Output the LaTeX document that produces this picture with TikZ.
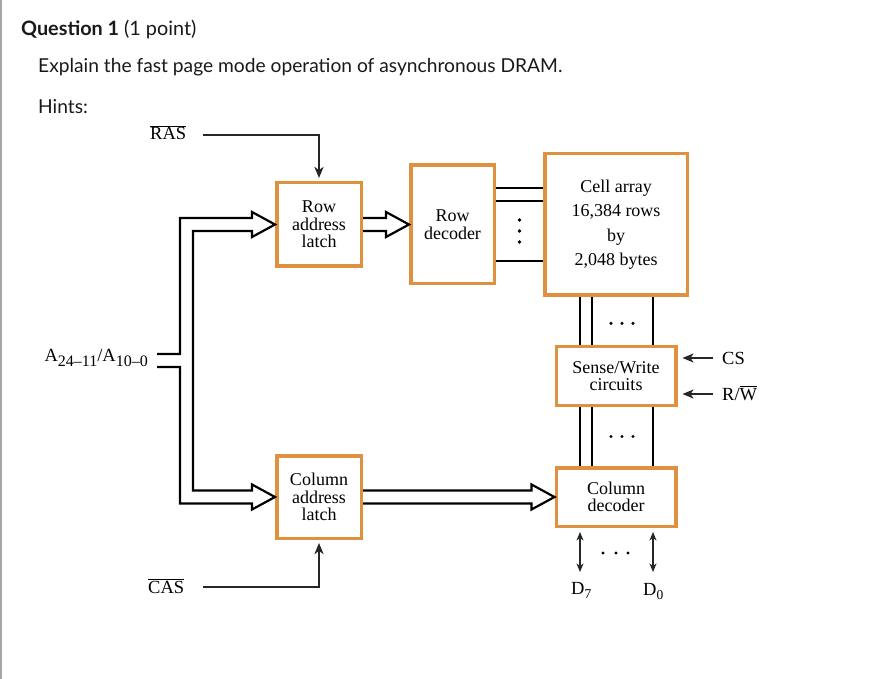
\documentclass[tikz,border=0pt]{standalone}
\usepackage{fontspec}
\setmainfont{Liberation Serif}
\newfontfamily\latofont{Lato}
\usetikzlibrary{calc,arrows.meta}
\definecolor{boxorange}{RGB}{222,145,62}
\begin{document}
\begin{tikzpicture}[x=1pt,y=-1pt,
  box/.style={draw=boxorange, line width=3.5pt, fill=white, align=center, inner sep=0pt, font=\fontsize{18}{17.5}\selectfont},
  wire/.style={line width=2.2pt, draw=black, line join=miter},
  sig/.style={line width=2.2pt, draw=black!85, -{Stealth[length=11pt,width=9pt,inset=3pt]}},
  dsig/.style={line width=2.2pt, draw=black!85, {Stealth[length=8.5pt,width=7pt,inset=2.5pt]}-{Stealth[length=8.5pt,width=7pt,inset=2.5pt]}},
  lbl/.style={inner sep=0pt, font=\fontsize{18.5}{18.5}\selectfont},
  qtext/.style={anchor=base west, inner sep=0pt, text=black!90}]
\useasboundingbox (0,0) rectangle (879,679);
\fill[white] (0,0) rectangle (879,679);
\fill[gray!70] (0,0) rectangle (2,679);

% question text
\node[qtext, font=\latofont\fontsize{19.8}{19.8}\selectfont] (q) at (21,36) {\textbf{Question 1} (1 point)};
\node[qtext, font=\latofont\fontsize{19.2}{19.2}\selectfont] (ex) at (38,73) {Explain the fast page mode operation of asynchronous DRAM.};
\node[qtext, font=\latofont\fontsize{19.2}{19.2}\selectfont] (hints) at (38,114) {Hints:};

% boxes
\node[box, minimum width=84.5pt, minimum height=83.5pt] (rl) at (319,224.5) {Row\\address\\latch};
\node[box, minimum width=83.5pt, minimum height=118.5pt] (rd) at (452.5,224.5) {Row\\decoder};
\node[box, minimum width=142.5pt, minimum height=141.5pt, font=\fontsize{18}{24.5}\selectfont] (ca) at (616,224.5) {Cell array\\16,384 rows\\by\\2,048 bytes};
\node[box, minimum width=119.5pt, minimum height=58.5pt] (sw) at (616,376) {Sense/Write\\circuits};
\node[box, minimum width=119.5pt, minimum height=58.5pt] (cd) at (616,497) {Column\\decoder};
\node[box, minimum width=84.5pt, minimum height=82.5pt] (cl) at (319,497) {Column\\address\\latch};

% labels
\node[lbl, anchor=base west] (ras) at (150,139.5) {$\overline{\mbox{RAS}}$};
\node[lbl, anchor=base west] (cas) at (148,593) {$\overline{\mbox{CAS}}$};
\node[lbl, anchor=base west] (cs) at (722,364) {CS};
\node[lbl, anchor=base west] (rw) at (722,400) {R/$\overline{\mbox{W}}$};
\node[lbl, anchor=base east, font=\fontsize{18.5}{18.5}\selectfont] (addr) at (148,362)
  {A\raisebox{-5pt}{\fontsize{16}{16}\selectfont 24–11}/A\raisebox{-5pt}{\fontsize{16}{16}\selectfont 10–0}};
\node[lbl, anchor=base west] (d7) at (571,594) {D\raisebox{-4pt}{\fontsize{13.5}{13.5}\selectfont 7}};
\node[lbl, anchor=base west] (d0) at (643,595) {D\raisebox{-4pt}{\fontsize{13.5}{13.5}\selectfont 0}};

% free ends
\coordinate (stubU) at (157,354);
\coordinate (stubD) at (157,367);
\coordinate (rasA) at (203,135);
\coordinate (casA) at (203,587);
\coordinate (csA) at (713,358);
\coordinate (rwA) at (713,394);
\coordinate (d7A) at (580,572);
\coordinate (d0A) at (653,572);

% address bus (one outline)
\draw[wire] (stubU) -| ($(rl.west)+(-95,-6.5)$) -- ($(rl.west)+(-23,-6.5)$) -- ($(rl.west)+(-23,-12.5)$)
  -- (rl.west) -- ($(rl.west)+(-23,12.5)$) -- ($(rl.west)+(-23,6.5)$) -- ($(rl.west)+(-82,6.5)$)
  -- ($(cl.west)+(-82,-6.5)$) -- ($(cl.west)+(-23,-6.5)$) -- ($(cl.west)+(-23,-12.5)$)
  -- (cl.west) -- ($(cl.west)+(-23,12.5)$) -- ($(cl.west)+(-23,6.5)$) -- ($(cl.west)+(-95,6.5)$) |- (stubD);

% latch -> decoder hollow arrows
\draw[wire] ($(rl.east)+(0,-6.5)$) -- ($(rd.west)+(-23,-6.5)$) -- ($(rd.west)+(-23,-12.5)$) -- (rd.west)
  -- ($(rd.west)+(-23,12.5)$) -- ($(rd.west)+(-23,6.5)$) -- ($(rl.east)+(0,6.5)$);
\draw[wire] ($(cl.east)+(0,-6.5)$) -- ($(cd.west)+(-23,-6.5)$) -- ($(cd.west)+(-23,-12.5)$) -- (cd.west)
  -- ($(cd.west)+(-23,12.5)$) -- ($(cd.west)+(-23,6.5)$) -- ($(cl.east)+(0,6.5)$);

% RAS / CAS
\draw[sig, shorten >=3pt] (rasA) -| (rl.north);
\draw[sig, shorten >=3pt] (casA) -| (cl.south);

% CS, R/W
\draw[sig, shorten >=5pt] (csA) -- (csA -| sw.east);
\draw[sig, shorten >=5pt] (rwA) -- (rwA -| sw.east);

% row lines
\foreach \dy in {-36.5,-23.5,36.5}
  \draw[wire] ($(rd.east)+(0,\dy)$) -- ($(ca.west)+(0,\dy)$);
\foreach \dy in {-4.5,6.5,17.5}
  \fill ($(rd.east)!0.5!(ca.west)+(0,\dy)$) circle (1.8);

% column lines
\foreach \dx in {-36,-24,37} {
  \draw[wire] ($(ca.south)+(\dx,0)$) -- ($(sw.north)+(\dx,0)$);
  \draw[wire] ($(sw.south)+(\dx,0)$) -- ($(cd.north)+(\dx,0)$);
}
\foreach \dx in {-5,6,17} {
  \fill ($(ca.south)!0.55!(sw.north)+(\dx,0)$) circle (1.7);
  \fill ($(sw.south)!0.5!(cd.north)+(\dx,0)$) circle (1.7);
}

% data lines
\draw[dsig, shorten <=4pt] (d7A |- cd.south) -- (d7A);
\draw[dsig, shorten <=4pt] (d0A |- cd.south) -- (d0A);
\foreach \dx in {-13,0,12}
  \fill ($(cd.south)+(\dx,25)$) circle (1.7);
\end{tikzpicture}
\end{document}
